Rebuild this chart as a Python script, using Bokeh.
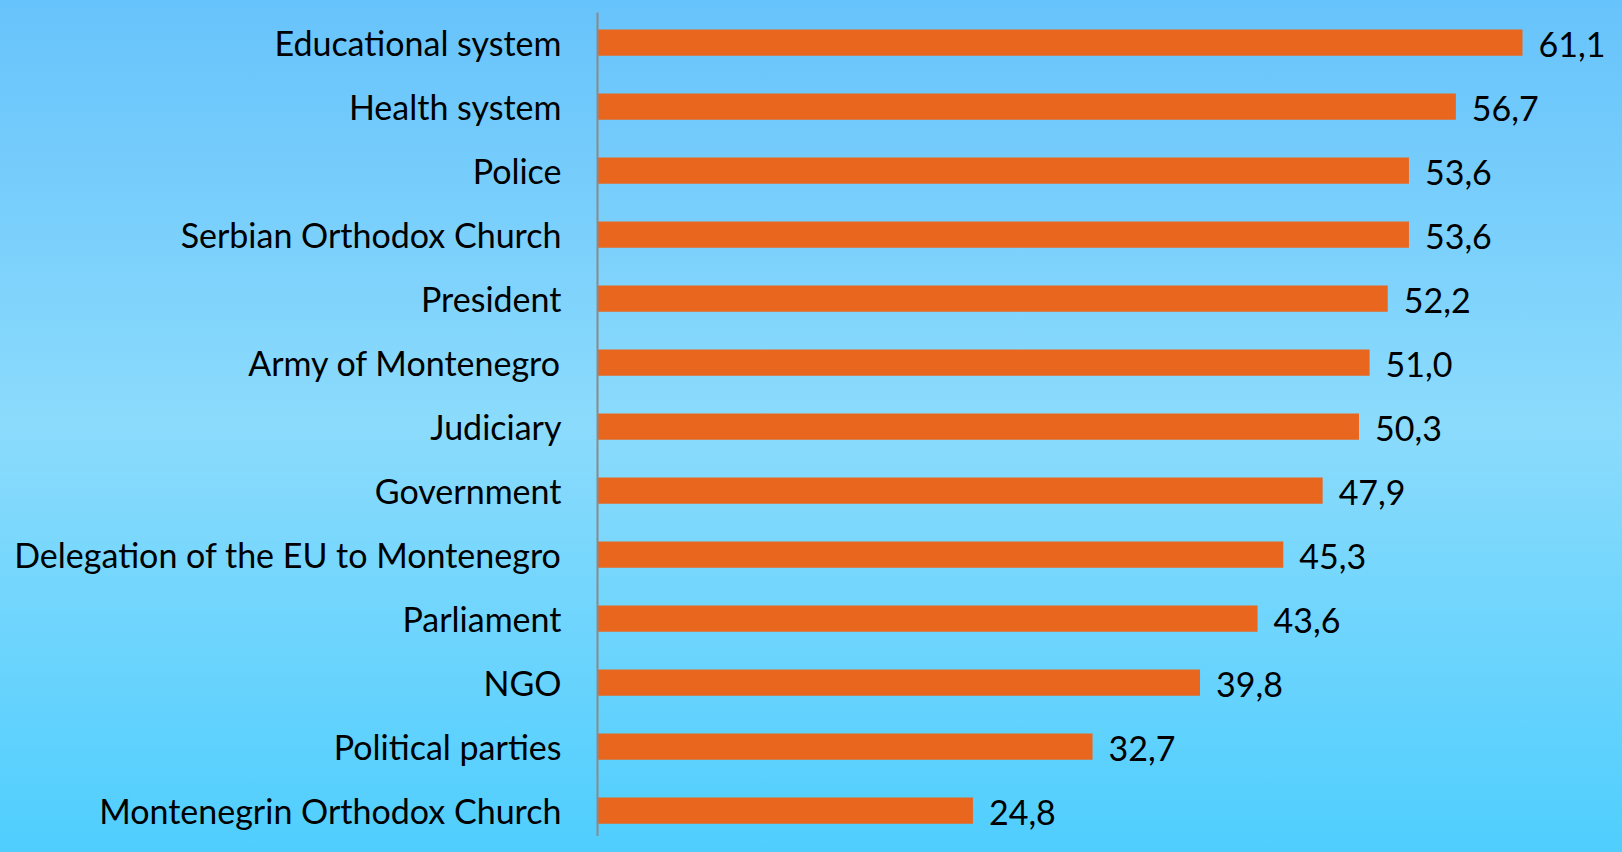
from bokeh.plotting import figure
from bokeh.models import Range1d, FixedTicker, GlobalInlineStyleSheet
from bokeh.core.properties import value
from bokeh.embed import file_html
from bokeh.resources import INLINE

categories = [
    "Educational system", "Health system", "Police", "Serbian Orthodox Church",
    "President", "Army of Montenegro", "Judiciary", "Government",
    "Delegation of the EU to Montenegro", "Parliament", "NGO",
    "Political parties", "Montenegrin Orthodox Church",
]
values = [61.1, 56.7, 53.6, 53.6, 52.2, 51.0, 50.3, 47.9, 45.3, 43.6, 39.8, 32.7, 24.8]
value_labels = [f"{v:.1f}".replace(".", ",") for v in values]

n = len(categories)
ypos = [n - 1 - i for i in range(n)]

FONT = "Lato"

p = figure(width=1606, height=836, output_backend="svg", toolbar_location=None,
           x_range=Range1d(0, 66.65), y_range=Range1d(-0.406, 12.469),
           min_border_left=597, min_border_right=0, min_border_top=12, min_border_bottom=0)
p.border_fill_color = None
p.background_fill_color = None
p.outline_line_color = None
p.grid.visible = False
p.xaxis.visible = False

ax = p.yaxis[0]
ax.ticker = FixedTicker(ticks=ypos)
ax.major_label_overrides = {y: c for y, c in zip(ypos, categories)}
ax.major_tick_out = 0
ax.major_tick_in = 0
ax.minor_tick_out = 0
ax.minor_tick_in = 0
ax.major_label_standoff = 36
ax.major_label_text_font = FONT
ax.major_label_text_font_size = "34px"
ax.major_label_text_color = "#000000"
ax.axis_line_color = "#8a8a8a"
ax.axis_line_width = 2

p.hbar(y=ypos, right=values, left=0, height=0.41, fill_color="#E9661F", line_color=None)
p.text(x=values, y=ypos, text=value_labels, x_offset=16, y_offset=2,
       text_align="left", text_baseline="middle",
       text_font=value(FONT), text_font_size="34px", text_color="#000000")

p.stylesheets = [GlobalInlineStyleSheet(css="html{min-height:100%;} body{background:linear-gradient(to bottom,#67C3FB 0%,#8BDBFC 50%,#4FCEFE 100%) fixed;}")]

open("out.html", "w").write(file_html(p, INLINE))
